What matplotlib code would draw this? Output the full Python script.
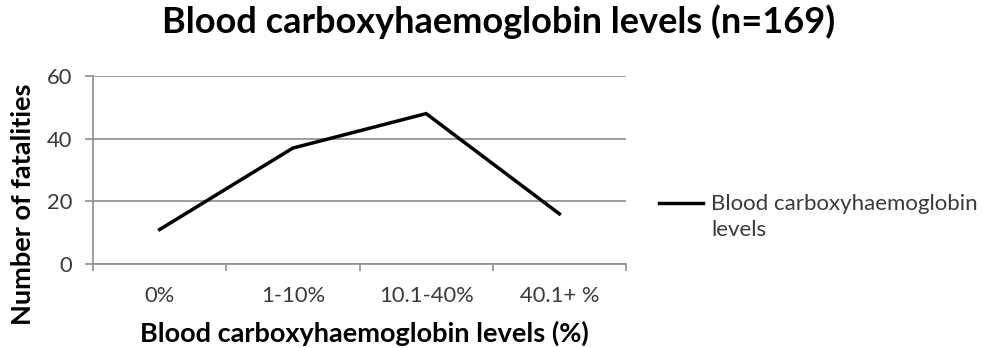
import matplotlib
matplotlib.use("Agg")
import matplotlib.pyplot as plt
from matplotlib.legend_handler import HandlerLine2D

categories = ["0%", "1-10%", "10.1-40%", "40.1+ %"]
fatalities = [11, 37, 48, 16]
series_name = "Blood carboxyhaemoglobin\nlevels"
y_ticks = [0, 20, 40, 60]

plt.rcParams["font.family"] = ["Lato", "DejaVu Sans"]

GRID = "#8e8e8e"
TEXT = "#3a3a3a"


class FirstLineHandler(HandlerLine2D):
    """Legend line aligned with the first line of a two-line label."""
    shift = 0.0

    def create_artists(self, legend, orig_handle, xdescent, ydescent, width,
                       height, fontsize, trans):
        artists = super().create_artists(legend, orig_handle, xdescent, ydescent,
                                         width, height, fontsize, trans)
        for a in artists:
            y = a.get_ydata()
            a.set_ydata([v + self.shift for v in y])
        return artists


fig = plt.figure(figsize=(9.94, 3.48), dpi=100)
ax = fig.add_axes([93 / 994, 1 - 264 / 348, (626 - 93) / 994, (264 - 76) / 348])

x = list(range(len(categories)))
line, = ax.plot(x, fatalities, color="black", linewidth=2.5, solid_joinstyle="miter",
                label=series_name)

ax.set_xlim(-0.5, len(categories) - 0.5)
ax.set_ylim(0, 60)
ax.set_yticks(y_ticks)
ax.set_xticks(x)
ax.set_xticklabels(categories)
ax.set_xticks([i - 0.5 for i in range(len(categories) + 1)], minor=True)

ax.grid(axis="y", color=GRID, linewidth=1.2)
ax.set_axisbelow(True)
for side in ("top", "right"):
    ax.spines[side].set_visible(False)
for side in ("left", "bottom"):
    ax.spines[side].set_color(GRID)
    ax.spines[side].set_linewidth(1.2)
ax.tick_params(axis="x", which="major", length=0, pad=16, labelsize=15.8, labelcolor=TEXT)
ax.tick_params(axis="x", which="minor", length=5, width=1.2, color=GRID)
ax.tick_params(axis="y", length=6, width=1.2, color=GRID, labelsize=15.8,
               labelcolor=TEXT, pad=9)

ax.set_ylabel("Number of fatalities", fontsize=19.5, fontweight="bold")
ax.yaxis.set_label_coords(-0.108, 0.32)
ax.set_xlabel("Blood carboxyhaemoglobin levels (%)", fontsize=19.5, fontweight="bold")
ax.xaxis.set_label_coords(0.51, -0.30)

fig.text(0.502, 1 - 22 / 348, "Blood carboxyhaemoglobin levels (n=169)", fontsize=26,
         fontweight="bold", ha="center", va="center")

FirstLineHandler.shift = 10.5
leg = fig.legend(handles=[line], loc="center left",
                 bbox_to_anchor=(659 / 994, 1 - 217 / 348),
                 frameon=False, fontsize=16, handlelength=2.0, handletextpad=0.35,
                 borderpad=0, borderaxespad=0, labelcolor=TEXT,
                 handler_map={line: FirstLineHandler()})
for t in leg.get_texts():
    t.set_linespacing(1.35)

fig.savefig("out.png", dpi=100)
